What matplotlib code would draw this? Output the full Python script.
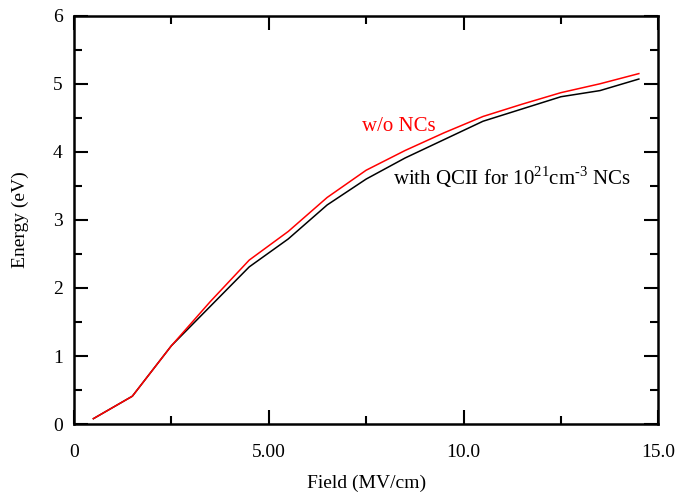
import matplotlib
matplotlib.use('Agg')
import matplotlib.pyplot as plt
from matplotlib.ticker import MultipleLocator, FixedLocator, FixedFormatter

# field points (MV/cm) and energies (eV)
field = [0.5, 1.5, 2.5, 3.5, 4.5, 5.5, 6.5, 7.5, 8.5, 9.5, 10.5, 11.5, 12.5, 13.5, 14.5]
energy_no_nc = [0.08, 0.41, 1.15, 1.80, 2.41, 2.83, 3.33, 3.73, 4.02, 4.28, 4.52, 4.70, 4.87, 5.00, 5.15]
energy_qcii = [0.08, 0.41, 1.15, 1.73, 2.31, 2.72, 3.22, 3.60, 3.91, 4.18, 4.45, 4.63, 4.81, 4.90, 5.07]

x_ticks = [0, 5, 10, 15]
x_tick_labels = ["0", "5.00", "10.0", "15.0"]

plt.rcParams['font.family'] = ['Liberation Serif', 'DejaVu Serif']
plt.rcParams['mathtext.fontset'] = 'custom'
plt.rcParams['mathtext.rm'] = 'Liberation Serif'

fig = plt.figure(figsize=(6.78, 4.92), dpi=100)
ax = fig.add_axes([0.109, 0.138, 0.862, 0.830])

ax.plot(field, energy_qcii, color='black', lw=1.1)
ax.plot(field, energy_no_nc, color='#ff0000', lw=1.1)

ax.set_xlim(0, 15)
ax.set_ylim(0, 6)
ax.xaxis.set_major_locator(FixedLocator(x_ticks))
ax.xaxis.set_major_formatter(FixedFormatter(x_tick_labels))
ax.xaxis.set_minor_locator(MultipleLocator(2.5))
ax.yaxis.set_major_locator(MultipleLocator(1))
ax.yaxis.set_minor_locator(MultipleLocator(0.5))

ax.tick_params(which='both', direction='in', top=True, right=True, width=1.5, labelsize=14)
ax.tick_params(which='major', length=10, pad=14)
ax.tick_params(which='minor', length=6)
ax.tick_params(axis='y', which='major', pad=8)
for s in ax.spines.values():
    s.set_linewidth(1.8)

ax.set_xlabel("Field (MV/cm)", fontsize=14, labelpad=10)
ax.set_ylabel("Energy (eV)", fontsize=14, labelpad=17)

ax.text(7.4, 4.38, "w/o NCs", color='#ff0000', fontsize=15, ha='left', va='center')
ax.text(8.2, 3.63, r"with QCII for 10$^{21}$cm$^{\text{-}3}$ NCs", color='black',
        fontsize=15, ha='left', va='center')

fig.savefig('out.png', dpi=100)
